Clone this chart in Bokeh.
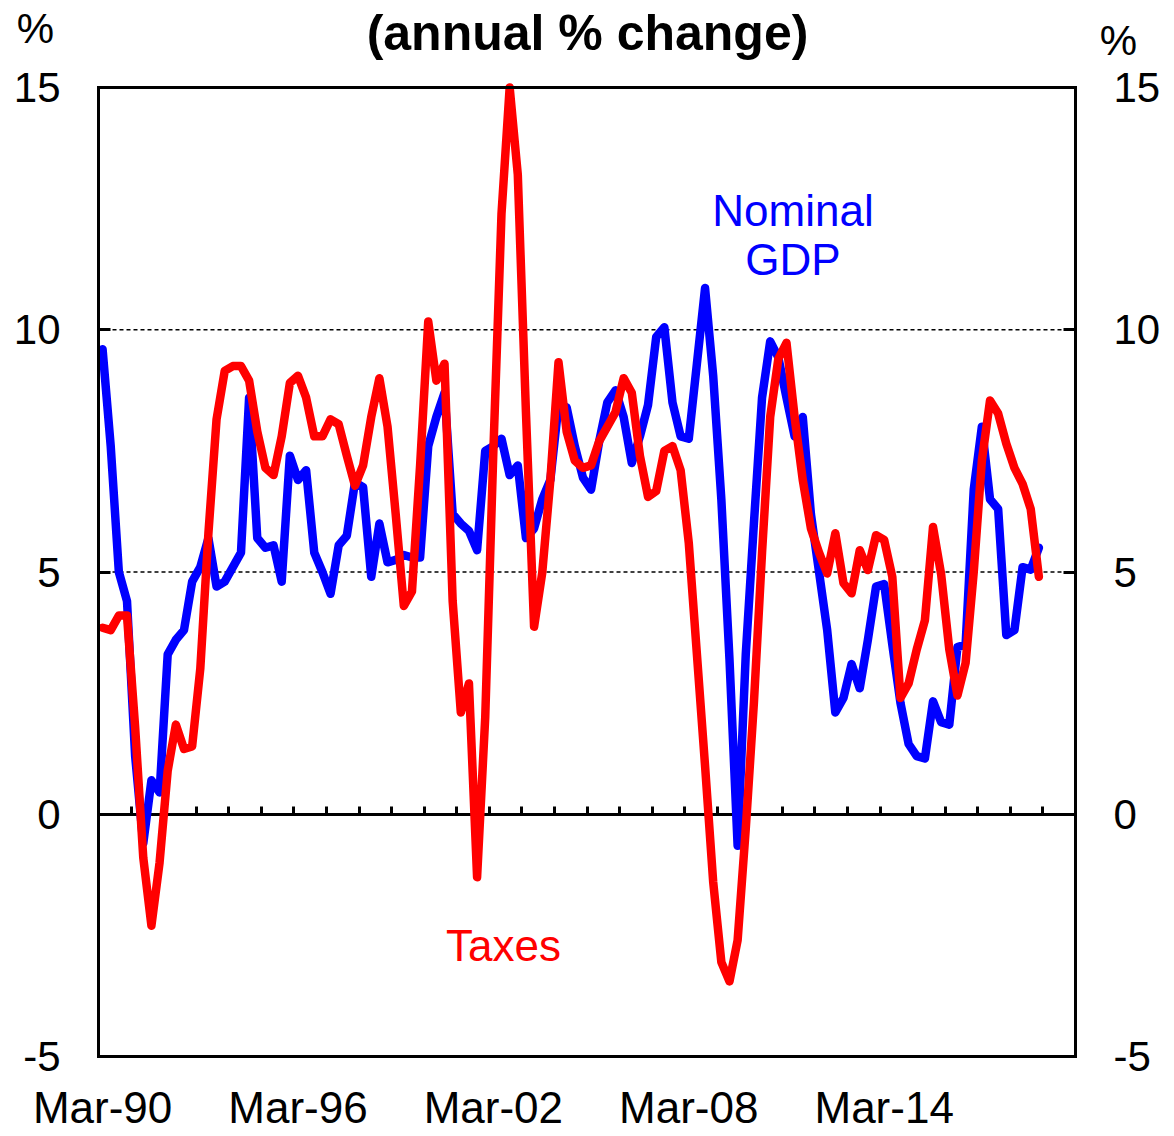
from bokeh.plotting import figure
from bokeh.models import Range1d, LinearAxis, FixedTicker, Label
from bokeh.embed import file_html
from bokeh.resources import INLINE

# Quarterly index: 0 = Mar-90 ... 115 = Dec-18
quarters = list(range(116))

gdp = [9.6, 7.6, 5.0, 4.4, 1.2, -0.6, 0.7, 0.45, 3.3, 3.6,
       3.8, 4.8, 5.1, 5.7, 4.7, 4.8, 5.1, 5.4, 8.6, 5.7,
       5.5, 5.55, 4.8, 7.4, 6.9, 7.1, 5.4, 5.0, 4.55, 5.55,
       5.75, 6.85, 6.75, 4.9, 6.0, 5.2, 5.25, 5.35, 5.3, 5.3,
       7.6, 8.2, 8.7, 6.2, 6.0, 5.85, 5.45, 7.5, 7.6, 7.75,
       7.0, 7.2, 5.7, 5.9, 6.5, 6.9, 8.45, 8.4, 7.6, 6.95,
       6.7, 7.7, 8.5, 8.75, 8.2, 7.25, 7.8, 8.45, 9.85, 10.05,
       8.5, 7.8, 7.75, 9.3, 10.86, 9.05, 6.5, 3.2, -0.65, 3.3,
       6.0, 8.6, 9.76, 9.43, 8.6, 7.8, 8.2, 6.2, 5.0, 3.8,
       2.1, 2.4, 3.1, 2.6, 3.6, 4.7, 4.75, 3.5, 2.3, 1.45,
       1.2, 1.15, 2.33, 1.9, 1.85, 3.45, 3.5, 6.7, 8.0, 6.5,
       6.3, 3.7, 3.8, 5.1, 5.05, 5.5]

taxes = [3.85, 3.8, 4.1, 4.1, 1.8, -0.9, -2.3, -1.0, 0.9, 1.85,
         1.35, 1.4, 3.0, 5.8, 8.15, 9.15, 9.25, 9.25, 8.95, 7.9,
         7.15, 7.0, 7.8, 8.9, 9.05, 8.6, 7.8, 7.8, 8.15, 8.05,
         7.4, 6.78, 7.2, 8.2, 9.0, 8.0, 6.2, 4.3, 4.6, 7.2,
         10.17, 8.95, 9.3, 4.4, 2.1, 2.7, -1.3, 2.0, 7.5, 12.4,
         15.0, 13.2, 8.3, 3.87, 4.98, 6.9, 9.33, 7.9, 7.3, 7.15,
         7.2, 7.7, 8.0, 8.3, 9.0, 8.7, 7.4, 6.55, 6.67, 7.5,
         7.6, 7.1, 5.6, 3.3, 1.0, -1.4, -3.05, -3.45, -2.6, -0.3,
         2.3, 5.4, 8.2, 9.4, 9.73, 8.2, 6.9, 5.9, 5.4, 4.97,
         5.8, 4.77, 4.56, 5.45, 5.04, 5.76, 5.66, 4.9, 2.4, 2.7,
         3.4, 4.0, 5.93, 4.95, 3.4, 2.45, 3.12, 5.0, 7.3, 8.54,
         8.27, 7.65, 7.15, 6.82, 6.3, 4.9]

x_tick_idx = [0, 24, 48, 72, 96]
x_tick_lbl = ["Mar-90", "Mar-96", "Mar-02", "Mar-08", "Mar-14"]
y_ticks = [-5, 0, 5, 10, 15]
grid_levels = [5, 10]
year_bounds = [3.5 + 4 * k for k in range(29)]

FONT = "Liberation Sans"
W, H = 1174, 1136

# chart box: categories -0.5..119.5 over px 98..1075, values -5..15 over px 1056..87
XMIN, XMAX, YMIN, YMAX = -0.5, 119.5, -5, 15
PXX = (1075 - 98) / (XMAX - XMIN)
PXY = (1056 - 87) / (YMAX - YMIN)
x0 = XMIN - 98 / PXX
x1 = x0 + W / PXX
y1 = YMAX + 87 / PXY
y0 = y1 - H / PXY

p = figure(width=W, height=H,
           x_range=Range1d(x0, x1), y_range=Range1d(y0, y1),
           output_backend="svg", toolbar_location=None,
           x_axis_location=None, y_axis_location=None,
           min_border=0, min_border_left=0, min_border_right=0,
           min_border_top=0, min_border_bottom=0)
p.background_fill_color = "white"
p.border_fill_color = "white"
p.outline_line_color = None
p.xgrid.visible = False
p.ygrid.visible = False

# dashed reference lines at 5 and 10, spanning the chart box only
p.segment(x0=[XMIN] * len(grid_levels), y0=grid_levels,
          x1=[XMAX] * len(grid_levels), y1=grid_levels,
          line_color="black", line_width=1.5, line_dash="4 3")

def y_axis(loc, standoff):
    ax = LinearAxis(fixed_location=loc, bounds=(YMIN, YMAX),
                    ticker=FixedTicker(ticks=y_ticks))
    ax.major_label_overrides = {t: str(t) for t in y_ticks}
    ax.major_tick_in = 12
    ax.major_tick_out = 0
    ax.major_tick_line_width = 3
    ax.major_tick_line_color = "black"
    ax.minor_tick_line_color = None
    ax.axis_line_color = "black"
    ax.axis_line_width = 3
    ax.axis_line_cap = "square"
    ax.major_label_text_font = FONT
    ax.major_label_text_font_size = "42px"
    ax.major_label_text_color = "black"
    ax.major_label_standoff = standoff
    return ax

p.add_layout(y_axis(XMIN, 38), "left")
p.add_layout(y_axis(XMAX, 38), "right")

top = LinearAxis(fixed_location=YMAX, bounds=(XMIN, XMAX), ticker=FixedTicker(ticks=[]))
top.major_tick_line_color = None
top.minor_tick_line_color = None
top.axis_line_width = 3
top.axis_line_cap = "square"
p.add_layout(top, "above")

bottom = LinearAxis(fixed_location=YMIN, bounds=(XMIN, XMAX), ticker=FixedTicker(ticks=x_tick_idx))
bottom.major_label_overrides = dict(zip(x_tick_idx, x_tick_lbl))
bottom.major_tick_in = 0
bottom.major_tick_out = 0
bottom.minor_tick_line_color = None
bottom.axis_line_width = 3
bottom.axis_line_cap = "square"
bottom.major_label_text_font = FONT
bottom.major_label_text_font_size = "44px"
bottom.major_label_text_color = "black"
bottom.major_label_standoff = 26
p.add_layout(bottom, "below")

zero = LinearAxis(fixed_location=0, bounds=(XMIN, XMAX),
                  ticker=FixedTicker(ticks=[], minor_ticks=year_bounds), level="underlay")
zero.major_tick_line_color = None
zero.minor_tick_in = 8
zero.minor_tick_out = 0
zero.minor_tick_line_width = 3
zero.minor_tick_line_color = "black"
zero.axis_line_width = 3
p.add_layout(zero, "below")

p.line(quarters, gdp, line_color="#0000FF", line_width=8.5, line_join="round", line_cap="round")
p.line(quarters, taxes, line_color="#FF0000", line_width=8.5, line_join="round", line_cap="round")

def add_label(x, y, text, size, color="black", bold=False):
    lab = Label(x=x, y=y, text=text, text_font=FONT, text_font_size=size,
                text_color=color, text_align="center", text_baseline="middle",
                text_font_style="bold" if bold else "normal")
    p.add_layout(lab)

add_label(59.56, 16.135, "(annual % change)", "50px", bold=True)
add_label(-8.24, 16.21, "%", "42px")
add_label(124.78, 15.96, "%", "42px")
add_label(84.8, 12.46, "Nominal", "44px", color="#0000FF")
add_label(84.8, 11.44, "GDP", "44px", color="#0000FF")
add_label(49.24, -2.70, "Taxes", "44px", color="#FF0000")

open("out.html", "w").write(file_html(p, INLINE))
